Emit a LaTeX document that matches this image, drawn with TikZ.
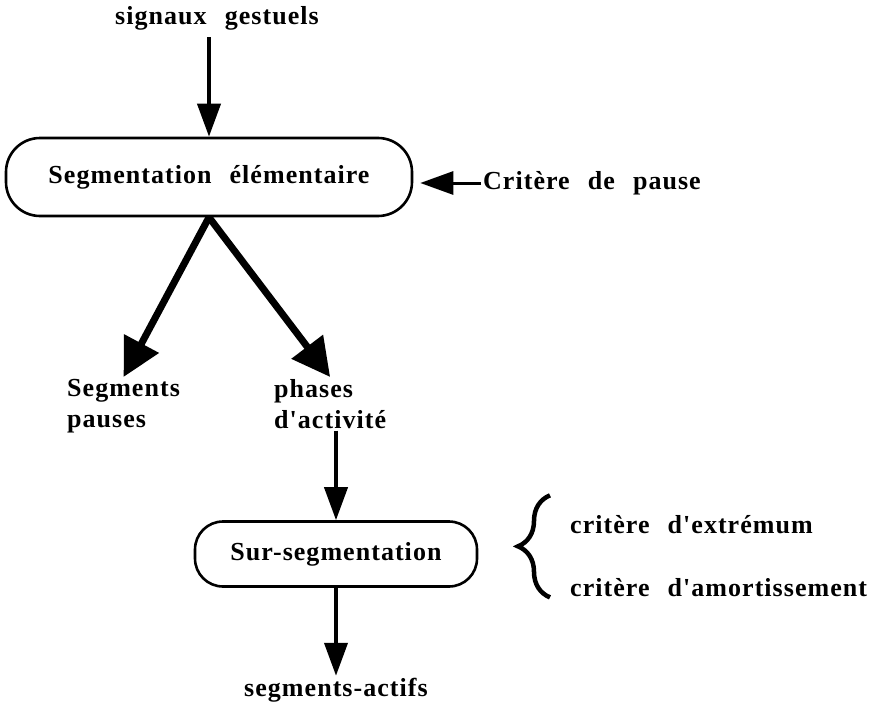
\documentclass[tikz,border=0pt]{standalone}
\usepackage{fontspec}
\setmainfont{Liberation Serif}[Ligatures=TeXOff,LetterSpace=4,WordSpace=2.4]
\usetikzlibrary{arrows.meta,decorations.pathreplacing}

\begin{document}
\begin{tikzpicture}[x=1pt,y=-1pt]
   \tikzstyle{arrow} = [line width=4pt,-{Triangle[length=33pt,width=23pt]}]
   \tikzstyle{bigarrow} = [line width=7pt,-{Triangle[length=38pt,width=38pt]}]
   \tikzset{txt/.style = {font=\fontsize{26}{31}\selectfont\bfseries, inner sep=2pt}, }
   \tikzset{proc/.style = {txt, rectangle, draw, line width=2.6pt, rounded corners=34pt}, }
   \useasboundingbox (0,0) rectangle (887,704);

   \node[txt] (signaux) at (217,18) {signaux gestuels};
   \node[proc, minimum width=406pt, minimum height=78pt] (seg) at (209,177) {Segmentation élémentaire};
   \node[txt, anchor=west] (pause) at (481,183) {Critère de pause};

   \node[txt, align=left, anchor=north west] (pauses) at (65,377) {Segments\\pauses};
   \node[txt, align=left, anchor=north west] (phases) at (272,377) {phases\\d'activité};

   \node[proc, minimum width=282pt, minimum height=65pt, rounded corners=28pt] (surseg) at (336,554) {Sur-segmentation};
   \node[txt] (actifs) at (336,690) {segments-actifs};

   \node[txt, anchor=west] (extremum) at (568,525) {critère d'extrémum};
   \node[txt, anchor=west] (amort) at (568,588) {critère d'amortissement};

   % entrees
   \draw[arrow, shorten <=5pt] (signaux.south -| seg.north) -- (seg.north);
   \draw[arrow, line width=3pt, shorten >=7pt] (pause.west) -- (seg.east |- pause.west);

   % sorties
   \draw[bigarrow] (seg.south) -- (pauses.north);
   \draw[bigarrow] (seg.south) -- (phases.north);
   \draw[arrow] (phases.south -| surseg.north) -- (surseg.north);
   \draw[arrow] (surseg.south) -- (actifs.north);

   % criteres
   \draw[line width=4.5pt, decorate, decoration={brace, amplitude=32pt}]
   (extremum.west |- amort.south) ++(-18,-2) -- ++(0,-102);
\end{tikzpicture}
\end{document}
